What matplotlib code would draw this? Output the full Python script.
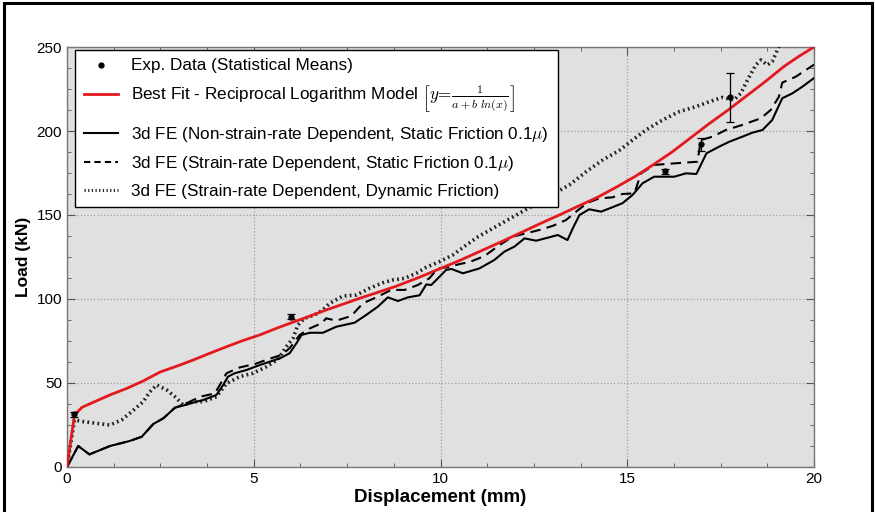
import matplotlib
matplotlib.use("Agg")
import matplotlib.pyplot as plt
from matplotlib.ticker import MultipleLocator
from matplotlib.patches import Rectangle
from matplotlib.lines import Line2D

plt.rcParams['font.family'] = ['Liberation Sans', 'DejaVu Sans']
plt.rcParams['mathtext.fontset'] = 'cm'

# experimental means with error bars
exp_x = [0.2, 6.0, 16.0, 16.97, 17.75]
exp_y = [31.5, 89.5, 176.0, 192.0, 220.0]
exp_err = [1.5, 1.5, 1.5, 4.0, 14.5]

# best fit - reciprocal logarithm model
fit_x = [0, 0.2, 0.4, 0.7, 1.15, 1.6, 2.04, 2.49, 3.0, 3.38, 3.8, 4.27, 4.7,
         5.16, 5.6, 6.05, 6.5, 6.94, 7.4, 7.83, 8.3, 8.8, 9.44, 10.0, 10.5,
         11.04, 11.67, 12.2, 12.7, 13.2, 13.7, 14.2, 14.7, 15.23, 15.7, 16.2,
         16.7, 17.2, 17.7, 18.2, 18.7, 19.2, 19.6, 20.0]
fit_y = [0, 31, 35.5, 38.5, 42.9, 46.8, 51.2, 56.5, 60.5, 63.7, 67.5, 71.6, 75.2,
         78.6, 82.5, 86.2, 89.8, 93.5, 97.0, 100.4, 103.8, 107.5, 113.0, 118.2, 122.8,
         128.2, 134.5, 140.0, 145.2, 150.2, 155.4, 160.5, 166.5, 173.2, 180.0, 187.5,
         196.0, 204.5, 212.5, 221.0, 229.5, 238.5, 244.5, 250.0]

# 3d FE, non-strain-rate dependent, static friction
fe1_x = [0, 0.3, 0.6, 1.15, 1.68, 2.0, 2.31, 2.58, 2.89, 3.16, 3.47, 3.65, 4.0,
         4.18, 4.31, 4.49, 4.8, 5.16, 5.43, 5.7, 5.96, 6.14, 6.28, 6.5, 6.85,
         7.21, 7.7, 8.01, 8.32, 8.59, 8.86, 9.13, 9.44, 9.62, 9.75, 9.93, 10.15,
         10.29, 10.6, 11.04, 11.44, 11.71, 11.98, 12.25, 12.56, 12.91, 13.14,
         13.4, 13.54, 13.72, 13.98, 14.3, 14.6, 14.87, 15.14, 15.41, 15.72,
         16.26, 16.57, 16.85, 17.12, 17.46, 17.73, 18.08, 18.35, 18.62, 18.88,
         19.15, 19.42, 19.69, 20.0]
fe1_y = [0, 12.5, 7.5, 12.5, 15.5, 18, 25.6, 29, 35.3, 36.9, 38.9, 39.9, 42.9,
         48.8, 53.8, 55.8, 57.7, 60.7, 62.7, 64.7, 67.7, 73.6, 78.6, 79.9, 79.9,
         83.5, 85.9, 90.5, 95.4, 101, 98.8, 101, 102.2, 108.7, 108.3, 112.3, 117.3,
         117.9, 115.3, 118.2, 123.2, 128.2, 131.2, 136.1, 134.7, 136.7, 138.1,
         135.1, 142, 150, 153.4, 152, 154.6, 157, 161.9, 168.9, 172.8,
         172.8, 174.8, 174.4, 186.7, 190.7, 193.6, 196.6, 199, 200.6, 206.5,
         219.5, 222.4, 226.4, 231.5]

# 3d FE, strain-rate dependent, static friction
fe2_x = [0, 0.3, 0.6, 1.15, 1.68, 2.0, 2.31, 2.58, 2.89, 3.16, 3.56, 3.96,
         4.27, 4.63, 5.03, 5.38, 5.74, 5.96, 6.23, 6.5, 6.81, 6.94, 7.21, 7.61,
         7.92, 8.32, 8.68, 9.04, 9.39, 9.7, 9.93, 10.2, 10.51, 10.78, 11.18,
         11.58, 11.93, 12.29, 12.65, 13.0, 13.36, 13.63, 13.94, 14.25, 14.6,
         14.87, 15.19, 15.37, 15.72, 16.3, 16.88, 16.97, 17.28, 17.64, 18.08,
         18.58, 18.84, 19.06, 19.15, 19.51, 20.0]
fe2_y = [0, 12.5, 7.5, 12.5, 15.5, 18, 25.6, 29, 35.3, 37.5, 41.8, 43.8,
         55.8, 59.3, 61.3, 64.1, 66.7, 70.7, 78.6, 82.5, 85.5, 88.5, 87.1, 89.9,
         97.4, 101.4, 105.4, 105.4, 108.3, 112.3, 118.3, 118.9, 120.8, 122, 125.6,
         132.1, 137.1, 139.1, 141.1, 143.5, 147, 152, 157.3, 159.9, 160.5,
         162.5, 162.9, 174.8, 179.8, 180.8, 181.7, 194.6, 196.6, 200.6, 203.6,
         207.6, 212.5, 220.4, 228.8, 232.3, 239.5]

# 3d FE, strain-rate dependent, dynamic friction
fe3_x = [0, 0.2, 0.44, 0.79, 1.15, 1.46, 1.73, 2.04, 2.22, 2.4, 2.67, 2.89,
         3.11, 3.38, 3.65, 4.0, 4.27, 4.63, 4.98, 5.34, 5.65, 5.87, 6.05, 6.18,
         6.36, 6.63, 6.85, 7.03, 7.39, 7.75, 8.1, 8.46, 8.72, 9.04, 9.35, 9.62,
         9.97, 10.33, 10.69, 11.0, 13.45, 13.9, 14.34, 14.79, 15.14, 15.5,
         15.94, 16.39, 16.84, 17.19, 17.55, 17.86, 18.04, 18.22, 18.44, 18.58,
         18.75, 18.88, 19.02, 19.2]
fe3_y = [0, 28, 27, 26, 25, 28, 32.9, 38.9, 44.8, 48.8, 45.8, 41.8,
         36.9, 38.9, 38.9, 41.8, 49.8, 53.8, 55.8, 59.7, 64.1, 71.6, 76.6, 84.5,
         88.5, 90.5, 93.5, 97.4, 101.8, 102.4, 106.4, 109.7, 111.3, 112.3, 115.3, 118.9,
         122.2, 126.2, 132.1, 137, 167.9, 175.8, 182.7, 188.5, 194.6, 200.6,
         206.5, 211.5, 214.5, 217.4, 220, 218.5, 222.4, 230.4, 239.3, 242.3,
         239.3, 241.3, 248.2, 258]

fig = plt.figure(figsize=(8.75, 5.12), dpi=100)
ax = fig.add_axes([0.0766, 0.0879, 0.8537, 0.8203])
ax.set_facecolor('#e0e0e0')

ax.plot(fe3_x, fe3_y, color='#222222', lw=2.6, linestyle=(0, (0.5, 0.9)), zorder=3)
ax.plot(fe2_x, fe2_y, color='black', lw=1.5, linestyle=(0, (5, 3)), zorder=4)
ax.plot(fe1_x, fe1_y, color='black', lw=1.5, zorder=4)
ax.plot(fit_x, fit_y, color='#e3191f', lw=2.0, zorder=5)
ax.errorbar(exp_x, exp_y, yerr=exp_err, fmt='o', color='black', ms=3.5,
            elinewidth=0.9, capsize=3, capthick=0.9, zorder=6)

ax.set_xlim(0, 20)
ax.set_ylim(0, 250)
ax.xaxis.set_major_locator(MultipleLocator(5))
ax.xaxis.set_minor_locator(MultipleLocator(1.25))
ax.yaxis.set_major_locator(MultipleLocator(50))
ax.yaxis.set_minor_locator(MultipleLocator(12.5))
ax.tick_params(which='both', direction='in', top=True, right=True,
               color='#555555', labelsize=11)
ax.tick_params(which='major', length=6)
ax.tick_params(which='minor', length=3)
ax.grid(True, which='major', linestyle=':', color='#a0a0a0', lw=0.9)
for s in ax.spines.values():
    s.set_color('#777777')
    s.set_linewidth(1.0)

ax.set_xlabel('Displacement (mm)', fontsize=13.5, fontweight='bold', labelpad=2)
ax.set_ylabel('Load (kN)', fontsize=12.5, fontweight='bold', labelpad=4)

handles = [
    Line2D([], [], linestyle='none', marker='o', ms=3.5, color='black'),
    Line2D([], [], color='#e3191f', lw=2.0),
    Line2D([], [], color='black', lw=1.5),
    Line2D([], [], color='black', lw=1.5, linestyle=(0, (3, 2))),
    Line2D([], [], color='#222222', lw=2.2, linestyle=(0, (0.4, 0.8))),
]
labels = [
    'Exp. Data (Statistical Means)',
    r'Best Fit - Reciprocal Logarithm Model $\left[y\!=\!\frac{1}{a+b\ ln(x)}\right]$',
    r'3d FE (Non-strain-rate Dependent, Static Friction 0.1$\mu$)',
    r'3d FE (Strain-rate Dependent, Static Friction 0.1$\mu$)',
    '3d FE (Strain-rate Dependent, Dynamic Friction)',
]
leg = ax.legend(handles, labels, loc='upper left',
                bbox_to_anchor=(0.0107, 0.993), borderaxespad=0, fontsize=12.3,
                handlelength=2.0, handletextpad=0.8, labelspacing=0.6,
                borderpad=0.5, fancybox=False, framealpha=1, edgecolor='black')
leg.get_frame().set_linewidth(1.0)
leg.set_zorder(10)

fig.patches.append(Rectangle((0.004, -0.02), 0.992, 1.014, transform=fig.transFigure,
                             fill=False, edgecolor='black', lw=2.2))

fig.savefig('out.png', dpi=100)
